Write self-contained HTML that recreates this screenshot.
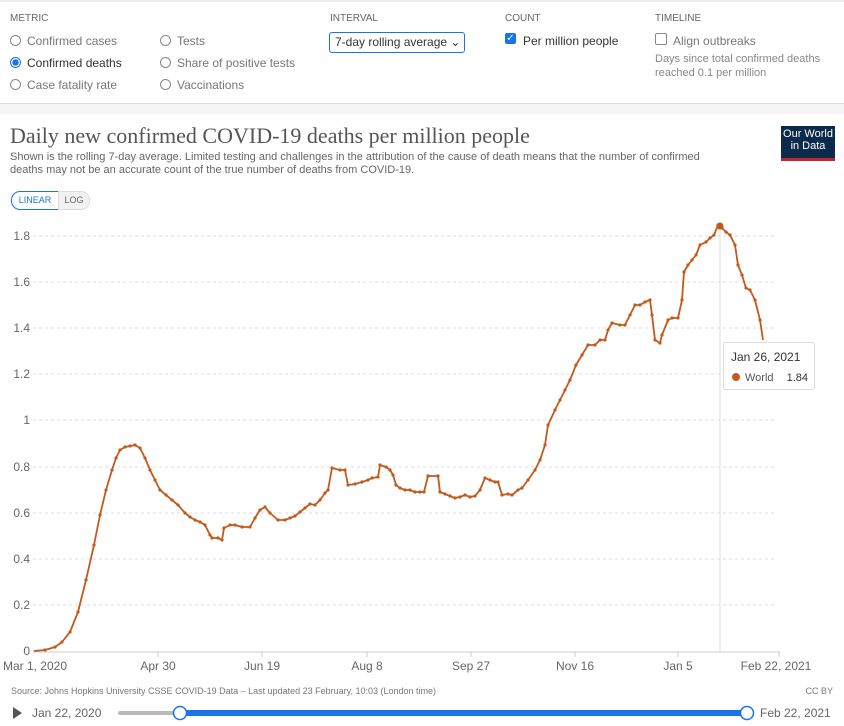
<!DOCTYPE html>
<html><head><meta charset="utf-8"><style>
body{margin:0;width:844px;height:726px;background:#fff;font-family:"Liberation Sans",sans-serif;position:relative;overflow:hidden;color:#555}
.a{position:absolute;white-space:nowrap}
.lab{font-size:10px;color:#666}
.opt{font-size:12px;color:#777}
.rad{display:inline-block;width:9px;height:9px;border:1px solid #888;border-radius:50%;vertical-align:-1px;margin-right:6px}
</style></head><body>
<div class="a" style="left:0;top:0;width:844px;height:2px;background:#eee"></div>
<div class="a lab" style="left:10px;top:13px">METRIC</div>
<div class="a opt" style="left:10px;top:34px"><span class="rad"></span>Confirmed cases</div>
<div class="a opt" style="left:10px;top:56px;color:#333"><span class="rad" style="border-color:#1a73e8;background:radial-gradient(#1a73e8 45%,#fff 55%)"></span>Confirmed deaths</div>
<div class="a opt" style="left:10px;top:78px"><span class="rad"></span>Case fatality rate</div>
<div class="a opt" style="left:160px;top:34px"><span class="rad"></span>Tests</div>
<div class="a opt" style="left:160px;top:56px"><span class="rad"></span>Share of positive tests</div>
<div class="a opt" style="left:160px;top:78px"><span class="rad"></span>Vaccinations</div>
<div class="a lab" style="left:330px;top:13px">INTERVAL</div>
<div class="a" style="left:329px;top:32px;border:1.5px solid #1a73e8;border-radius:3px;font-size:12px;color:#333;line-height:19px;padding-left:5px;box-sizing:border-box;width:136px;height:21px">7-day rolling average ⌄</div>
<div class="a lab" style="left:505px;top:13px">COUNT</div>
<div class="a" style="left:505px;top:33px;width:11px;height:11px;background:#1a73e8;border-radius:2px;color:#fff;font-size:10px;line-height:11px;text-align:center">✓</div>
<div class="a opt" style="left:523px;top:34px;color:#333">Per million people</div>
<div class="a lab" style="left:655px;top:13px">TIMELINE</div>
<div class="a" style="left:655px;top:33px;width:10px;height:10px;border:1px solid #888;border-radius:2px"></div>
<div class="a opt" style="left:673px;top:34px">Align outbreaks</div>
<div class="a" style="left:655px;top:52px;font-size:11px;color:#888;line-height:14px">Days since total confirmed deaths<br>reached 0.1 per million</div>
<div class="a" style="left:0;top:103px;width:844px;height:10px;background:#f5f5f5;border-top:1px solid #ddd"></div>
<div class="a" style="left:10px;top:123px;font-family:'Liberation Serif',serif;font-size:22px;color:#555">Daily new confirmed COVID-19 deaths per million people</div>
<div class="a" style="left:10px;top:151px;font-size:11px;color:#666;line-height:13px">Shown is the rolling 7-day average. Limited testing and challenges in the attribution of the cause of death means that the number of confirmed<br>deaths may not be an accurate count of the true number of deaths from COVID-19.</div>
<div class="a" style="left:781px;top:126px;width:54px;height:30px;background:#0c2a4c;color:#fff;font-size:11px;line-height:12px;text-align:center;padding-top:2px;border-bottom:3px solid #c0262d;box-sizing:content-box">Our World<br>in Data</div>
<div class="a" style="left:11px;top:191px;width:46px;height:17px;border:1px solid #1a73e8;border-radius:9px 0 0 9px;font-size:9px;color:#1a73e8;line-height:17px;text-align:center">LINEAR</div>
<div class="a" style="left:58px;top:191px;width:30px;height:17px;border:1px solid #ddd;border-radius:0 9px 9px 0;background:#f2f2f2;font-size:9px;color:#666;line-height:17px;text-align:center">LOG</div>
<svg class="a" style="left:0;top:0" width="844" height="726">
<defs><marker id="m" markerWidth="4" markerHeight="4" refX="2" refY="2" markerUnits="userSpaceOnUse"><circle cx="2" cy="2" r="1.6" fill="#c15a1c"/></marker></defs>
<g stroke="#ddd" stroke-dasharray="3,3">
<line x1="33" x2="777" y1="236" y2="236"/><line x1="33" x2="777" y1="282" y2="282"/><line x1="33" x2="777" y1="328" y2="328"/><line x1="33" x2="777" y1="374" y2="374"/><line x1="33" x2="777" y1="420" y2="420"/><line x1="33" x2="777" y1="467" y2="467"/><line x1="33" x2="777" y1="513" y2="513"/><line x1="33" x2="777" y1="559" y2="559"/><line x1="33" x2="777" y1="605" y2="605"/></g>
<line x1="33" x2="780" y1="652" y2="652" stroke="#ccc"/>
<g stroke="#ccc"><line x1="158" x2="158" y1="652" y2="657"/><line x1="262" x2="262" y1="652" y2="657"/><line x1="367" x2="367" y1="652" y2="657"/><line x1="471" x2="471" y1="652" y2="657"/><line x1="575" x2="575" y1="652" y2="657"/><line x1="678" x2="678" y1="652" y2="657"/><line x1="779" x2="779" y1="652" y2="657"/></g>
<line x1="720" x2="720" y1="226" y2="652" stroke="#ddd"/>
<g font-size="12" fill="#666" text-anchor="end"><text x="30" y="240">1.8</text><text x="30" y="286">1.6</text><text x="30" y="332">1.4</text><text x="30" y="378">1.2</text><text x="30" y="424">1</text><text x="30" y="471">0.8</text><text x="30" y="517">0.6</text><text x="30" y="563">0.4</text><text x="30" y="609">0.2</text><text x="30" y="655">0</text></g>
<g font-size="12" fill="#666" text-anchor="middle"><text x="35" y="670">Mar 1, 2020</text><text x="158" y="670">Apr 30</text><text x="262" y="670">Jun 19</text><text x="367" y="670">Aug 8</text><text x="471" y="670">Sep 27</text><text x="575" y="670">Nov 16</text><text x="678" y="670">Jan 5</text><text x="776" y="670">Feb 22, 2021</text></g>
<polyline fill="none" stroke="#c15a1c" stroke-width="1.8" stroke-linejoin="round" marker-mid="url(#m)" points="34,651 45,650 55,647 62,642 70,632 78,612 86,580 94,545 100,515 106,490 112,470 116,458 120,450 125,447 130,446 135,445 140,448 145,458 150,470 155,480 160,490 166,495 172,500 178,505 185,513 190,517 195,520 200,522 205,525 210,535 212,538 218,538 222,540 224,528 230,525 235,525 242,527 250,527 255,518 260,510 265,507 270,513 278,520 285,520 290,518 295,516 300,512 305,508 310,504 315,505 320,500 325,493 328,490 332,468 340,470 345,470 348,485 355,484 362,482 368,480 372,478 378,477 380,465 386,467 390,470 393,475 396,485 400,488 405,490 410,490 415,492 420,492 424,492 428,476 438,476 440,492 445,494 450,496 455,498 460,497 465,495 470,497 475,496 480,490 485,478 490,480 495,482 498,482 502,495 508,494 512,495 518,490 522,488 528,480 535,470 540,460 545,445 548,425 555,410 560,400 565,390 570,380 576,365 582,355 588,345 595,345 600,340 605,340 608,330 612,323 620,325 625,325 630,315 635,305 640,305 645,302 650,300 652,315 655,340 660,343 662,335 668,320 672,318 678,318 682,300 684,272 688,265 692,260 696,255 700,245 706,242 710,238 714,235 718,225 722,228 726,232 730,235 735,245 738,265 742,275 746,288 750,290 755,300 760,320 763,340"/>
<circle cx="720" cy="226" r="3.5" fill="#c15a1c"/>
<rect x="723.5" y="342.5" width="91" height="47" fill="#fff" stroke="#ddd" rx="2"/>
<text x="731" y="361" font-size="12" fill="#333">Jan 26, 2021</text>
<circle cx="736" cy="377" r="4" fill="#c15a1c"/>
<text x="745" y="381" font-size="11" fill="#555">World</text>
<text x="808" y="381" font-size="11" fill="#333" text-anchor="end">1.84</text>
<text x="11" y="694" font-size="9" fill="#777">Source: Johns Hopkins University CSSE COVID-19 Data – Last updated 23 February, 10:03 (London time)</text>
<text x="833" y="694" font-size="9" fill="#777" text-anchor="end">CC BY</text>
<polygon points="13,707 13,719 22,713" fill="#555"/>
<text x="32" y="717" font-size="12" fill="#666">Jan 22, 2020</text>
<rect x="118" y="711" width="62" height="4" fill="#bbb" rx="2"/>
<rect x="180" y="710" width="568" height="6" fill="#1a73e8"/>
<circle cx="180" cy="713" r="6.5" fill="#fff" stroke="#1a73e8" stroke-width="1.5"/>
<circle cx="747" cy="713" r="6.5" fill="#fff" stroke="#1a73e8" stroke-width="1.5"/>
<text x="760" y="717" font-size="12" fill="#666">Feb 22, 2021</text>
</svg>
</body></html>
